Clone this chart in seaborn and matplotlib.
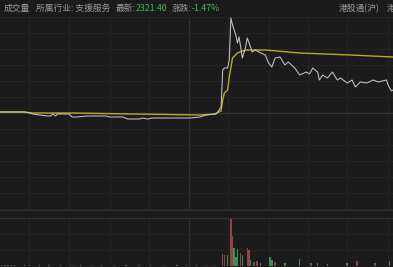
import matplotlib
matplotlib.use("Agg")
import matplotlib.pyplot as plt
import seaborn as sns
import pandas as pd

# ---------------- data ----------------
prev_close = 2356.0
latest_price = "2321.40"
change_pct = "-1.47%"
industry = "支援服务"

price_minutes = [0, 15, 18, 20, 24, 29, 31, 32, 34, 35, 42, 44, 47, 53, 65, 67, 75, 78, 85, 87,
                 90, 93, 106, 116, 122, 126, 132, 133, 135, 136, 137, 139, 140, 141, 142, 144,
                 145, 146, 148, 150, 151, 153, 154, 156, 158, 162, 164, 166, 168, 171, 174, 176,
                 180, 183, 187, 189, 191, 194, 195, 197, 200, 203, 206, 208, 212, 215, 217, 220,
                 224, 228, 231, 236, 237, 239, 240]
price_values = [2356.5, 2356.5, 2356.0, 2355.5, 2355.0, 2354.5, 2354.5, 2355.5, 2354.5, 2355.5,
                2355.5, 2354.0, 2354.0, 2354.5, 2354.5, 2354.0, 2354.0, 2353.0, 2353.0, 2353.5,
                2353.0, 2353.5, 2353.5, 2353.5, 2354.0, 2355.0, 2355.5, 2356.5, 2359.0, 2377.5,
                2378.5, 2378.5, 2382.5, 2403.5, 2400.0, 2395.0, 2391.0, 2394.0, 2383.5, 2389.0,
                2393.5, 2389.0, 2386.5, 2387.5, 2386.5, 2385.0, 2381.0, 2379.0, 2383.5, 2384.0,
                2380.0, 2381.5, 2378.5, 2375.0, 2376.5, 2375.5, 2378.5, 2376.5, 2372.5, 2375.0,
                2373.5, 2376.5, 2372.5, 2373.5, 2371.0, 2372.5, 2369.0, 2371.5, 2371.0, 2372.5,
                2371.5, 2372.5, 2370.0, 2367.0, 2367.5]

avg_minutes = [0, 15, 20, 45, 81, 122, 131, 135, 136, 137, 139, 140, 142, 145, 148, 151, 162,
               183, 214, 240]
avg_values = [2356.5, 2356.5, 2356.0, 2356.0, 2355.5, 2355.0, 2355.5, 2357.0, 2362.5, 2366.0,
              2367.5, 2374.0, 2383.5, 2386.0, 2387.0, 2387.5, 2387.5, 2386.0, 2385.0, 2384.0]

vol_minutes = [1, 3, 5, 7, 9, 15, 18, 24, 30, 37, 43, 45, 49, 56, 62, 70, 77, 85, 92, 100, 108,
               114, 120, 126, 131, 136, 137, 139, 141, 142, 143, 144, 145, 147, 148, 151, 152,
               153, 155, 157, 159, 165, 166, 168, 174, 183, 190, 194, 200, 212, 218, 229, 238]
vol_values = [3, 2, 3, 2, 3, 2, 3, 2, 2, 3, 2, 3, 2, 2, 2, 3, 2, 2, 3, 2, 2, 2, 3, 2, 3, 24, 22,
              22, 94, 60, 36, 18, 34, 26, 22, 36, 32, 12, 8, 10, 6, 18, 12, 8, 6, 14, 6, 6, 4, 6,
              10, 6, 10]
vol_up = ["r", "r", "r", "g", "r", "g", "r", "g", "r", "g", "r", "r", "g", "r", "g", "r", "g",
          "r", "g", "r", "g", "r", "g", "r", "r", "r", "r", "g", "r", "r", "g", "g", "g", "r",
          "g", "r", "r", "g", "r", "r", "g", "g", "g", "r", "g", "g", "r", "g", "g", "g", "r",
          "r", "g"]

# ---------------- style ----------------
BG = "#1b1b1b"
GRID = "#242424"
MID = "#303030"
WHITE = "#c4c4c4"
YELLOW = "#b3ae1e"
RED = "#9a3b3b"
GREEN = "#2f9a4c"
TXT = "#9a9a9a"
TGREEN = "#33c25a"

sns.set_theme(style="dark")
plt.rcParams["font.family"] = ["Noto Sans CJK SC", "DejaVu Sans"]

W, H = 393, 267
fig = plt.figure(figsize=(W / 100, H / 100), dpi=100, facecolor=BG)

# price panel: y px 17..209
ax = fig.add_axes([0, 1 - 209 / H, 1, (209 - 17) / H])
# volume panel: y px 218..266
axv = fig.add_axes([0, 1 - 266 / H, 1, (266 - 218) / H])

xgrid = [18, 42, 67, 91, 115.4, 139, 164, 188, 212, 237]

for a in (ax, axv):
    a.set_facecolor(BG)
    a.set_xlim(0, 240)
    for s in a.spines.values():
        s.set_visible(False)
    a.set_xticks([])
    a.set_yticks([])
    a.grid(False)
    for xg in xgrid:
        a.axvline(xg, color=MID if xg == 115.4 else GRID, lw=0.8, zorder=0)

ax.set_ylim(prev_close - 48, prev_close + 48)
for k in range(-6, 7):
    yv = prev_close + 8 * k
    ax.axhline(yv, color=MID if k == 0 else GRID, lw=0.9 if k == 0 else 0.8, zorder=0)

df_p = pd.DataFrame({"m": price_minutes, "v": price_values})
df_a = pd.DataFrame({"m": avg_minutes, "v": avg_values})
sns.lineplot(data=df_a, x="m", y="v", ax=ax, color=YELLOW, lw=1.0, zorder=3)
sns.lineplot(data=df_p, x="m", y="v", ax=ax, color=WHITE, lw=0.75, zorder=4)
for l in ax.lines:
    l.set_clip_on(False)
ax.set_xlabel("")
ax.set_ylabel("")

axv.set_ylim(0, 96)
for yv in (32, 64, 96):
    axv.axhline(yv, color=GRID, lw=0.8, zorder=0)
df_v = pd.DataFrame({"m": vol_minutes, "v": vol_values, "c": vol_up})
sns.barplot(data=df_v, x="m", y="v", hue="c", palette={"r": RED, "g": GREEN},
            native_scale=True, dodge=False, width=0.9, legend=False, ax=axv,
            linewidth=0, zorder=3)
axv.set_xlim(0, 240)
axv.set_xlabel("")
axv.set_ylabel("")
axv.set_xticks([])
axv.set_yticks([])

# separator lines
fig.add_artist(plt.Line2D([0, 1], [1 - 210 / H] * 2, color=MID, lw=0.8))
fig.add_artist(plt.Line2D([0, 1], [1 - 218 / H] * 2, color=MID, lw=0.8))

# header
fs = 6.3
yt = 1 - 8.5 / H
renderer = fig.canvas.get_renderer()


def chain(x_px, parts):
    x = x_px / W
    for txt, col in parts:
        t = fig.text(x, yt, txt, color=col, fontsize=fs, va="center", ha="left")
        bb = t.get_window_extent(renderer=renderer)
        x = bb.x1 / W


chain(4, [("成交量", TXT)])
chain(36, [("所属行业: " + industry, TXT)])
chain(116, [("最新:", TXT), (latest_price, TGREEN)])
chain(172, [("涨跌:", TXT), (change_pct, TGREEN)])
chain(339, [("港股通(沪)", TXT)])
chain(387, [("港", TXT)])

fig.savefig("out.png", dpi=100, facecolor=BG)
